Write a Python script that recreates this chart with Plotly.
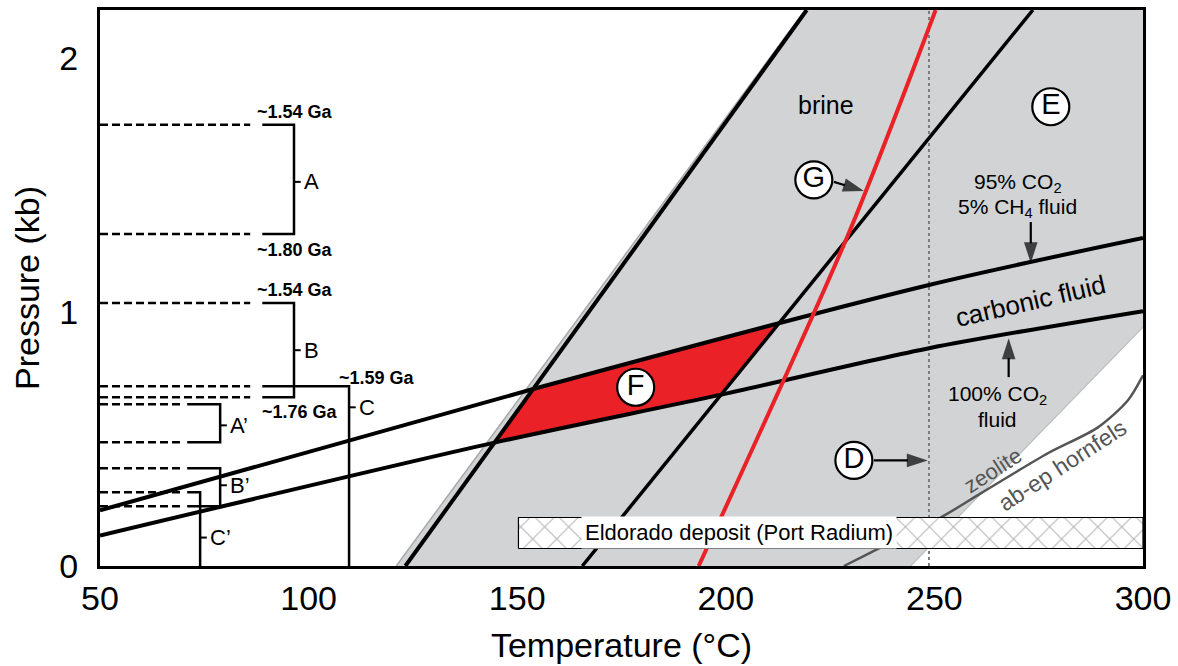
import numpy as np
import plotly.graph_objects as go

# ---------------- data ----------------
T_range = [50, 300]
P_range = [0, 2.19]
x_tickvals = [50, 100, 150, 200, 250, 300]
y_tickvals = [0, 1, 2]

# isochores (T in degC, P in kb)
brine_lo_T = [123.2, 219.4]
brine_lo_P = [0.0, 2.19]
brine_hi_T = [165.6, 273.6]
brine_hi_P = [0.0, 2.19]
red_T = [193.5, 229.5, 250.3]
red_P = [0.0, 1.312, 2.19]
co2ch4_T = [50, 153.6, 248.7, 300]
co2ch4_P = [0.219, 0.696, 1.107, 1.292]
co2_T = [50, 144.8, 198.3, 248.7, 300]
co2_P = [0.120, 0.487, 0.673, 0.858, 1.004]

# facies boundaries
hornfels_T = [228.3, 234.7, 251.5, 261.1, 277.2, 289.2, 296.4, 300]
hornfels_P = [0.0, 0.053, 0.191, 0.286, 0.444, 0.546, 0.653, 0.751]
zeolite_edge_T = [244.3, 300]
zeolite_edge_P = [0.0, 0.941]
gray_edge_T = [121.0, 219.0]
dotted_T = 248.7

# Eldorado deposit box
eldorado_T = [150.3, 300]
eldorado_P = [0.069, 0.191]

# brackets A, B, A', B'
bracket_names = ["A", "B", "A’", "B’"]
bracket_top = [1.738, 1.036, 0.637, 0.385]
bracket_bot = [1.308, 0.665, 0.487, 0.235]
bracket_T = [96.5, 96.5, 78.8, 78.8]
bracket_dash_end = [86.0, 86.0, 69.5, 69.5]
bracket_solid_start = [88.9, 88.9, 70.9, 70.9]
bracket_label_P = [1.513, 0.850, 0.554, 0.318]

# columns C, C'
col_names = ["C", "C’"]
col_top = [0.708, 0.290]
col_T = [109.7, 74.0]
col_dash_end = [86.0, 69.5]
col_solid_start = [88.9, 70.9]
col_label_P = [0.625, 0.112]

# age labels
age_text = ["~1.54 Ga", "~1.80 Ga", "~1.54 Ga", "~1.76 Ga", "~1.59 Ga"]
age_T = [96.8, 96.8, 96.8, 98.0, 116.5]
age_P = [1.789, 1.245, 1.087, 0.606, 0.740]

# circled letters
circ_text = ["F", "E", "G", "D"]
circ_T = [178.4, 277.9, 221.1, 230.7]
circ_P = [0.704, 1.809, 1.521, 0.416]

# arrows (tail T, tail P, tip T, tip P)
arrow_T0 = [225.9, 235.5, 273.1, 267.8]
arrow_P0 = [1.513, 0.416, 1.355, 0.744]
arrow_T1 = [233.1, 248.4, 273.1, 267.8]
arrow_P1 = [1.477, 0.416, 1.193, 0.897]

GRAY = "#d1d3d4"
RED = "#ea2127"
FONT = "Liberation Sans, Arial, sans-serif"

fig = go.Figure()


def add_line(T, P, color="black", width=4, dash=None, shape="linear"):
    fig.add_trace(go.Scatter(x=T, y=P, mode="lines",
                             line=dict(color=color, width=width, dash=dash, shape=shape,
                                       smoothing=0.8 if shape == "spline" else None),
                             hoverinfo="skip", showlegend=False))


def intersect(T1, P1, T2, P2):
    t = np.linspace(max(min(T1), min(T2)), min(max(T1), max(T2)), 40001)
    d = np.interp(t, T1, P1) - np.interp(t, T2, P2)
    i = np.where(np.sign(d[:-1]) != np.sign(d[1:]))[0][0]
    t0 = t[i] - d[i] * (t[i + 1] - t[i]) / (d[i + 1] - d[i])
    return float(t0), float(np.interp(t0, T1, P1))


# gray fluid field
poly_T = [gray_edge_T[0], gray_edge_T[1], T_range[1], zeolite_edge_T[1], zeolite_edge_T[0]]
poly_P = [P_range[0], P_range[1], P_range[1], zeolite_edge_P[1], zeolite_edge_P[0]]
fig.add_trace(go.Scatter(x=poly_T + [poly_T[0]], y=poly_P + [poly_P[0]], mode="lines",
                         fill="toself", fillcolor=GRAY, line=dict(width=0),
                         hoverinfo="skip", showlegend=False))
add_line(gray_edge_T, [P_range[0], P_range[1]], color="#a8a8a8", width=1.5)
add_line(zeolite_edge_T, zeolite_edge_P, color="#bdbdbd", width=1.2)

# F field (red) from intersections
a = intersect(co2_T, co2_P, brine_lo_T, brine_lo_P)
b = intersect(co2ch4_T, co2ch4_P, brine_lo_T, brine_lo_P)
c = intersect(co2ch4_T, co2ch4_P, brine_hi_T, brine_hi_P)
d = intersect(co2_T, co2_P, brine_hi_T, brine_hi_P)
up_T = [b[0]] + [t for t in co2ch4_T if b[0] < t < c[0]] + [c[0]]
lo_T = [d[0]] + [t for t in co2_T[::-1] if a[0] < t < d[0]] + [a[0]]
F_T = up_T + lo_T + [up_T[0]]
F_P = list(np.interp(up_T, co2ch4_T, co2ch4_P)) + list(np.interp(lo_T, co2_T, co2_P)) + [b[1]]
fig.add_trace(go.Scatter(x=F_T, y=F_P, mode="lines", fill="toself", fillcolor=RED,
                         line=dict(width=0), hoverinfo="skip", showlegend=False))

# dotted 250 line and facies boundary
add_line([dotted_T, dotted_T], P_range, color="#7d7d7d", width=2, dash="dot")
add_line(hornfels_T, hornfels_P, color="#555555", width=2.5, shape="spline")

# isochores
add_line(brine_lo_T, brine_lo_P, width=4)
add_line(brine_hi_T, brine_hi_P, width=3.5)
add_line(co2ch4_T, co2ch4_P, width=4, shape="spline")
add_line(co2_T, co2_P, width=4, shape="spline")
add_line(red_T, red_P, color=RED, width=4, shape="spline")

# brackets
DASH = "8px,4px"
for i in range(len(bracket_names)):
    for p in (bracket_top[i], bracket_bot[i]):
        add_line([T_range[0], bracket_dash_end[i]], [p, p], width=2.5, dash=DASH)
    add_line([bracket_solid_start[i], bracket_T[i], bracket_T[i], bracket_solid_start[i]],
             [bracket_top[i], bracket_top[i], bracket_bot[i], bracket_bot[i]], width=2.5)
    add_line([bracket_T[i], bracket_T[i] + 1.6], [bracket_label_P[i]] * 2, width=2)
    fig.add_annotation(x=bracket_T[i] + 1.9, y=bracket_label_P[i], text=bracket_names[i],
                       showarrow=False, xanchor="left", yanchor="middle",
                       font=dict(size=22, color="black", family=FONT))
for i in range(len(col_names)):
    add_line([T_range[0], col_dash_end[i]], [col_top[i]] * 2, width=2.5, dash=DASH)
    add_line([col_solid_start[i], col_T[i], col_T[i]], [col_top[i], col_top[i], P_range[0]], width=2.5)
    add_line([col_T[i], col_T[i] + 1.6], [col_label_P[i]] * 2, width=2)
    fig.add_annotation(x=col_T[i] + 1.9, y=col_label_P[i], text=col_names[i],
                       showarrow=False, xanchor="left", yanchor="middle",
                       font=dict(size=22, color="black", family=FONT))

for t, x, y in zip(age_text, age_T, age_P):
    fig.add_annotation(x=x, y=y, text="<b>" + t + "</b>", showarrow=False,
                       font=dict(size=18, color="black", family=FONT))

# Eldorado box
box_T = [eldorado_T[0], eldorado_T[1], eldorado_T[1], eldorado_T[0], eldorado_T[0]]
box_P = [eldorado_P[0], eldorado_P[0], eldorado_P[1], eldorado_P[1], eldorado_P[0]]
fig.add_trace(go.Scatter(x=box_T, y=box_P, mode="lines", fill="toself", fillcolor="white",
                         fillpattern=dict(shape="x", fgcolor="#6f6f6f", bgcolor="white",
                                          size=17, solidity=0.13),
                         line=dict(color="black", width=1.2), hoverinfo="skip", showlegend=False))
fig.add_annotation(x=203.1, y=0.132, text="Eldorado deposit (Port Radium)", showarrow=False,
                   bgcolor="white", borderpad=3,
                   font=dict(size=22, color="black", family=FONT))

# text labels
def label(x, y, text, size=19, angle=0, color="black"):
    fig.add_annotation(x=x, y=y, text=text, showarrow=False, textangle=angle,
                       font=dict(size=size, color=color, family=FONT))

label(224.0, 1.817, "brine", size=25)
label(270.0, 1.509, "95% CO<sub>2</sub>", size=21)
label(270.0, 1.410, "5% CH<sub>4</sub> fluid", size=21)
label(273.1, 1.042, "carbonic fluid", size=26, angle=-13)
label(265.2, 0.673, "100% CO<sub>2</sub>", size=21)
label(265.2, 0.578, "fluid", size=21)
label(264.0, 0.377, "zeolite", size=22, angle=-33, color="#555555")
label(280.8, 0.396, "ab-ep hornfels", size=23, angle=-33, color="#555555")

# arrows drawn as lines ending in arrowhead markers
for x0, y0, x1, y1 in zip(arrow_T0, arrow_P0, arrow_T1, arrow_P1):
    fig.add_trace(go.Scatter(x=[x0, x1], y=[y0, y1], mode="lines+markers",
                             line=dict(color="black", width=2.2),
                             marker=dict(symbol="arrow", size=[0, 22], angleref="previous",
                                         color="black", line=dict(width=0)),
                             hoverinfo="skip", showlegend=False))

# circled letters
fig.add_trace(go.Scatter(x=circ_T, y=circ_P, mode="markers+text", text=circ_text,
                         textposition="middle center",
                         textfont=dict(size=29, color="black", family=FONT),
                         marker=dict(size=37, color="white", line=dict(color="black", width=2.2)),
                         hoverinfo="skip", showlegend=False))

axis_common = dict(showline=True, linecolor="black", linewidth=3, mirror=True,
                   showgrid=False, zeroline=False, ticks="", layer="above traces",
                   tickfont=dict(size=34, color="black", family=FONT), automargin=False)
fig.update_layout(
    width=1178, height=666,
    margin=dict(l=100, r=35, t=10, b=100),
    paper_bgcolor="white", plot_bgcolor="white",
    xaxis=dict(range=T_range, tickvals=x_tickvals, ticklabelstandoff=0,
               title=dict(text="Temperature (°C)", font=dict(size=34, color="black", family=FONT),
                          standoff=18),
               **axis_common),
    yaxis=dict(range=P_range, tickvals=y_tickvals, ticklabelstandoff=12,
               title=dict(text="Pressure (kb)", font=dict(size=34, color="black", family=FONT),
                          standoff=10),
               **axis_common),
    font=dict(family=FONT),
)

fig.write_html("out.html", config={"displayModeBar": False},
               post_script="document.body.style.margin='0';")
